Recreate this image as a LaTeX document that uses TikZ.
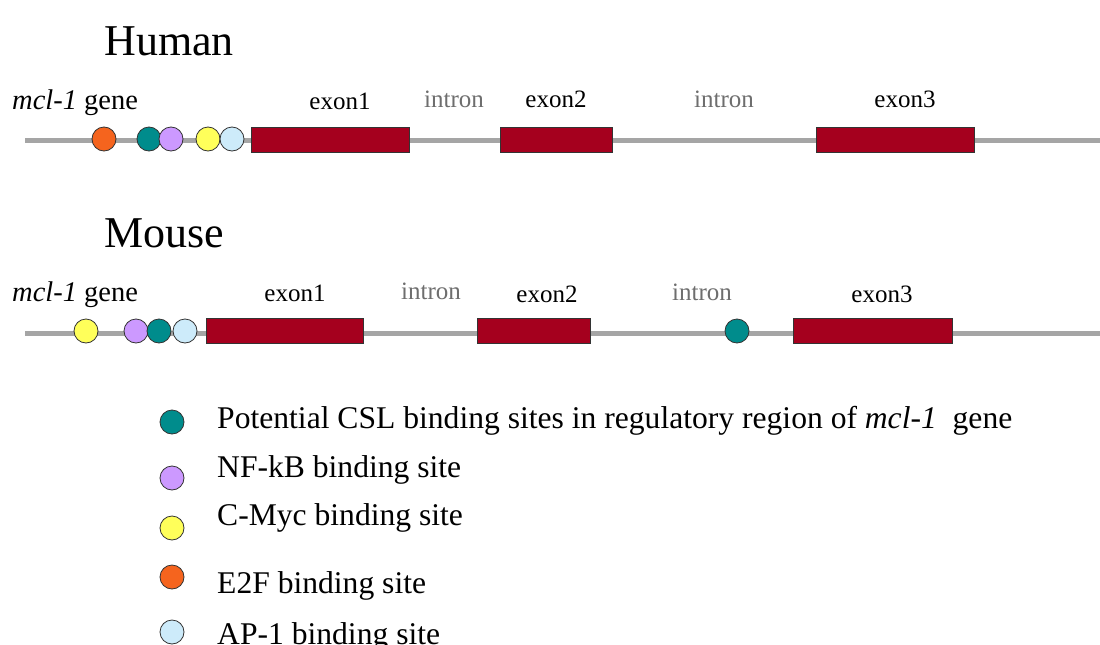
\documentclass[tikz,border=0pt]{standalone}
\usepackage{fontspec}
\setmainfont{Liberation Serif}
\definecolor{exonred}{RGB}{165,0,30}
\definecolor{cslteal}{RGB}{0,140,140}
\definecolor{nfpurple}{RGB}{204,153,255}
\definecolor{mycyellow}{RGB}{255,255,90}
\definecolor{e2forange}{RGB}{245,100,30}
\definecolor{apblue}{RGB}{205,235,250}
\definecolor{dnagray}{RGB}{165,165,165}
\definecolor{introngray}{RGB}{110,110,110}
\tikzset{
  dnaline/.style={draw=dnagray, line width=5pt},
  site/.style={circle, draw=black!80, line width=0.8pt, minimum size=24pt, inner sep=0pt},
  exonbox/.style={rectangle, draw=black!80, line width=0.8pt, fill=exonred, inner sep=0pt, minimum height=25pt},
  title/.style={anchor=base, inner sep=0pt, font=\fontsize{44}{50}\selectfont},
  lbl/.style={anchor=base, inner sep=0pt, font=\fontsize{25}{30}\selectfont},
  genelbl/.style={anchor=base west, inner sep=0pt, font=\fontsize{28.5}{34}\selectfont},
  intronlbl/.style={lbl, text=introngray},
  legtext/.style={anchor=base west, inner sep=0pt, font=\fontsize{31.6}{38}\selectfont},
}
\begin{document}
\begin{tikzpicture}[x=1pt,y=-1pt]
\useasboundingbox[fill=white] (0,0) rectangle (1100,645);
% ---------- Human ----------
\node[title] (humant) at (169,55) {Human};
\node[genelbl] (hgene) at (12,109) {\textit{mcl-1} gene};
\node[lbl] (hex1l) at (340,109) {exon1};
\node[intronlbl] (hin1l) at (454,107) {intron};
\node[lbl] (hex2l) at (556,107) {exon2};
\node[intronlbl] (hin2l) at (724,107) {intron};
\node[lbl] (hex3l) at (905,107) {exon3};
\coordinate (hL) at (25,140);
\coordinate (hR) at (1100,140);
\draw[dnaline] (hL) -- (hR);
\node[exonbox, minimum width=158pt] (hex1) at (330,139.5) {};
\node[exonbox, minimum width=112pt] (hex2) at (556,139.5) {};
\node[exonbox, minimum width=158pt] (hex3) at (895,139.5) {};
\node[site, fill=e2forange] (hs1) at (104,139) {};
\node[site, fill=cslteal] (hs2) at (149,139) {};
\node[site, fill=nfpurple] (hs3) at (171,139) {};
\node[site, fill=mycyellow] (hs4) at (208,139) {};
\node[site, fill=apblue] (hs5) at (232,139) {};
% ---------- Mouse ----------
\node[title] (mouset) at (164,247) {Mouse};
\node[genelbl] (mgene) at (12,301) {\textit{mcl-1} gene};
\node[lbl] (mex1l) at (295,301) {exon1};
\node[intronlbl] (min1l) at (431,299) {intron};
\node[lbl] (mex2l) at (547,302) {exon2};
\node[intronlbl] (min2l) at (702,300) {intron};
\node[lbl] (mex3l) at (882,302) {exon3};
\coordinate (mL) at (25,333);
\coordinate (mR) at (1100,333);
\draw[dnaline] (mL) -- (mR);
\node[exonbox, minimum width=157pt] (mex1) at (284.5,331) {};
\node[exonbox, minimum width=113pt] (mex2) at (533.5,331) {};
\node[exonbox, minimum width=159pt] (mex3) at (872.5,331) {};
\node[site, fill=mycyellow] (ms1) at (86,331) {};
\node[site, fill=nfpurple] (ms2) at (136,331) {};
\node[site, fill=cslteal] (ms3) at (159,331) {};
\node[site, fill=apblue] (ms4) at (185,331) {};
\node[site, fill=cslteal] (ms5) at (737,331) {};
% ---------- Legend ----------
\node[site, fill=cslteal] (lg1) at (172,422) {};
\node[site, fill=nfpurple] (lg2) at (172,478) {};
\node[site, fill=mycyellow] (lg3) at (172,528) {};
\node[site, fill=e2forange] (lg4) at (172,577) {};
\node[site, fill=apblue] (lg5) at (172,632) {};
\node[legtext] (lt1) at (217,428) {Potential CSL binding sites in regulatory region of \textit{mcl-1}\ \ gene};
\node[legtext] (lt2) at (217,477) {NF-kB binding site};
\node[legtext] (lt3) at (217,525) {C-Myc binding site};
\node[legtext] (lt4) at (217,593) {E2F binding site};
\node[legtext] (lt5) at (217,644) {AP-1 binding site};
\end{tikzpicture}
\end{document}
